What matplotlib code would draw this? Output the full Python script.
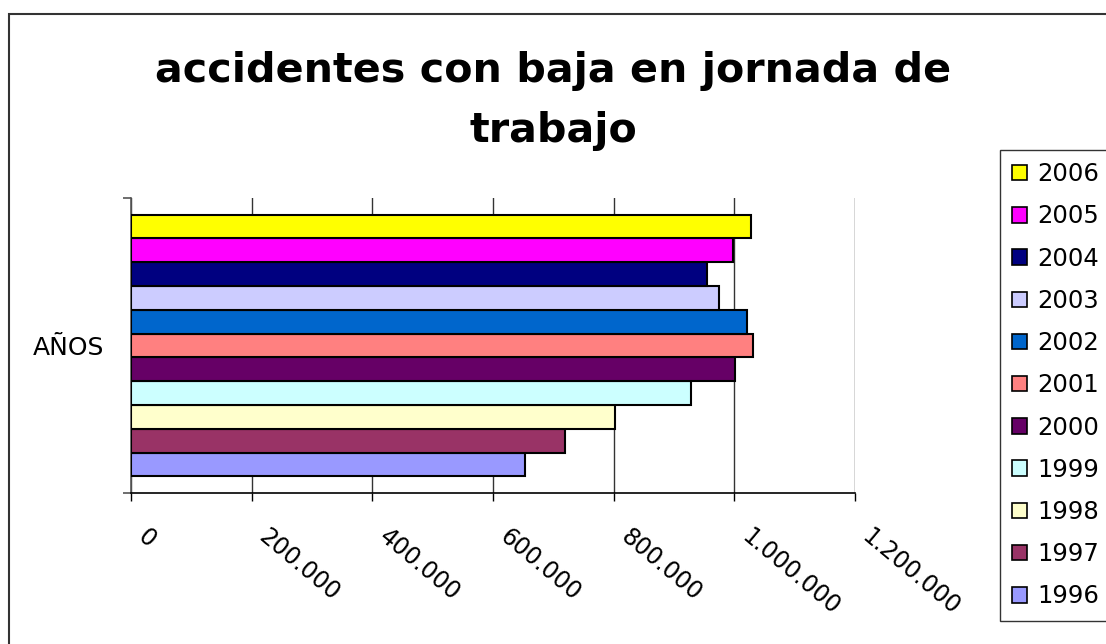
import matplotlib
matplotlib.use("Agg")
import matplotlib.pyplot as plt
import matplotlib.transforms as mtransforms
from matplotlib.patches import Rectangle

# --- data ---
years = ['1996', '1997', '1998', '1999', '2000', '2001',
         '2002', '2003', '2004', '2005', '2006']
accidents = [653000, 720000, 802000, 928000, 1001000, 1030500,
             1021000, 974000, 954500, 997500, 1027000]
colors = ['#9999FF', '#993366', '#FFFFCC', '#CCFFFF', '#660066', '#FF8080',
          '#0066CC', '#CCCCFF', '#000080', '#FF00FF', '#FFFF00']
category = 'AÑOS'
title = 'accidentes con baja en jornada de\ntrabajo'
x_ticks = [0, 200000, 400000, 600000, 800000, 1000000, 1200000]

plt.rcParams['font.family'] = ['DejaVu Sans']

fig = plt.figure(figsize=(11.06, 6.44), dpi=100)
W, H = 1106, 644
ax = fig.add_axes([131 / W, 1 - 493 / H, (855 - 131) / W, (493 - 198) / H])

# one category, bars stacked side by side within it
for i, (yr, val, col) in enumerate(zip(years, accidents, colors)):
    ax.barh(i, val, height=1.0, color=col, edgecolor='black', linewidth=1.5,
            label=yr, zorder=3)

gap = 0.7
ax.set_ylim(-0.5 - gap, len(years) - 0.5 + gap)
ax.set_xlim(0, 1200000)

ax.set_xticks(x_ticks)
ax.set_xticklabels([f"{v:,}".replace(',', '.') for v in x_ticks],
                   rotation=-40, ha='left', va='top', rotation_mode='anchor',
                   fontsize=17)
ax.tick_params(axis='x', direction='out', length=6, width=1, pad=17)
offset = mtransforms.ScaledTranslation(18 / 100, 0, fig.dpi_scale_trans)
for lbl in ax.get_xticklabels():
    lbl.set_transform(lbl.get_transform() + offset)

# category boundaries as major ticks, the category name as a minor tick
ax.set_yticks([-0.5 - gap, len(years) - 0.5 + gap])
ax.set_yticklabels(['', ''])
ax.tick_params(axis='y', which='major', direction='out', length=6, width=1.2, colors='#555555')
ax.set_yticks([(len(years) - 1) / 2], [category], minor=True)
ax.tick_params(axis='y', which='minor', length=0, pad=19, labelsize=18)

ax.grid(axis='x', color='#333333', linewidth=1, zorder=0)
ax.spines['top'].set_visible(False)
ax.spines['right'].set_visible(False)
ax.spines['left'].set_color('#555555')
ax.spines['left'].set_linewidth(1.2)
ax.spines['bottom'].set_linewidth(1.2)

fig.text(0.5, 1 - 101 / H, title, ha='center', va='center', fontsize=29.7,
         fontweight='bold', linespacing=1.63)

handles, labels = ax.get_legend_handles_labels()
leg = fig.legend(handles[::-1], labels[::-1], loc='upper left',
                 bbox_to_anchor=(1000 / W, 1 - 150 / H), fontsize=17.5,
                 frameon=True, fancybox=False, edgecolor='black',
                 handlelength=0.6, handleheight=0.6, handletextpad=0.45,
                 labelspacing=0.75, borderpad=0.5, borderaxespad=0)
leg.get_frame().set_linewidth(1)
for h in leg.legend_handles:
    h.set_linewidth(1.2)

# outer chart border (runs off the right and bottom edges)
fig.patches.append(Rectangle((8.5 / W, -0.1), 1.2, 1.1 - 13.5 / H,
                             transform=fig.transFigure, fill=False,
                             edgecolor='#333333', linewidth=1.5))

fig.savefig('out.png', dpi=100)
